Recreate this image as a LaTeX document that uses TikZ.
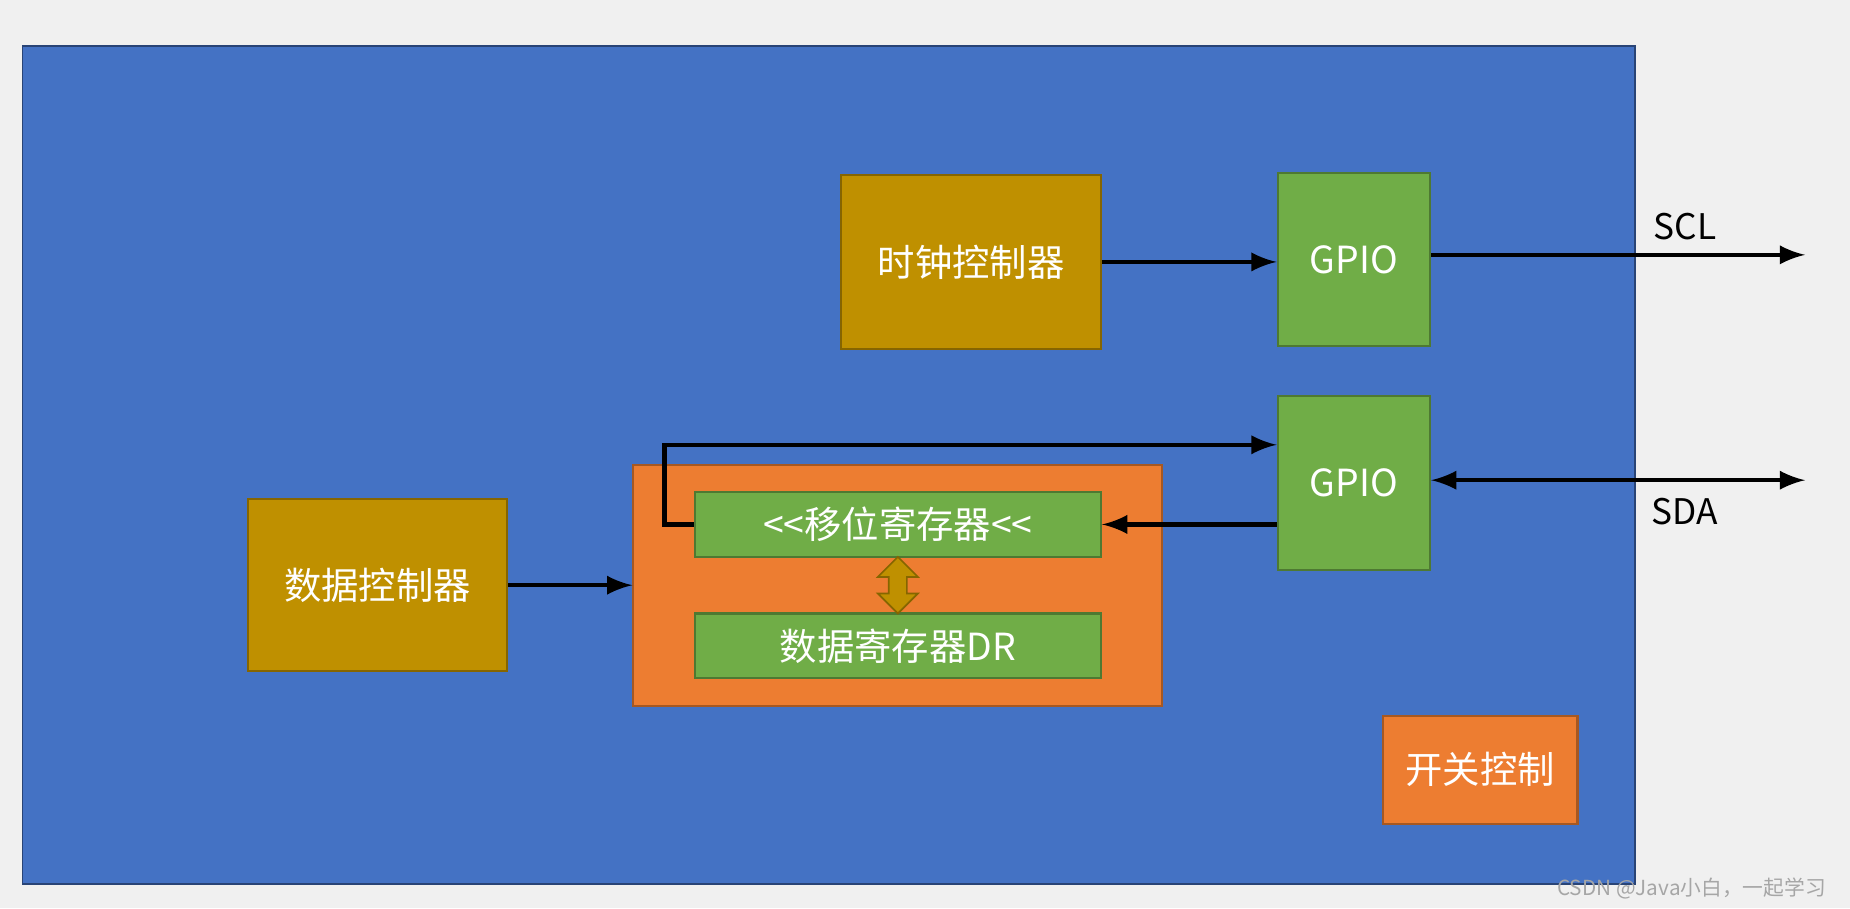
\documentclass[tikz,border=0pt]{standalone}
\usepackage{fontspec}
\setmainfont{Noto Sans CJK SC}
\usetikzlibrary{shapes.arrows}
\definecolor{bgGray}{HTML}{F0F0F0}
\definecolor{chipBlue}{HTML}{4472C4}
\definecolor{ctrlGold}{HTML}{BF9000}
\definecolor{ioGreen}{HTML}{70AD47}
\definecolor{regOrange}{HTML}{ED7D31}
\tikzset{
  blk/.style={draw=#1!70!black, fill=#1, line width=0.5pt, text=white,
    font=\fontsize{9}{10}\selectfont, inner sep=0pt},
  wire/.style={line width=1.1pt, -latex}
}
\begin{document}
\begin{tikzpicture}[x=0.01cm, y=-0.01cm]
\fill[bgGray] (0,0) rectangle (1568,770);
\useasboundingbox (0,0) rectangle (1568,770);
\draw[fill=chipBlue, draw=chipBlue!60!black] (19,39) rectangle (1386,749);
% blocks
\node[blk=ctrlGold, minimum width=2.2cm, minimum height=1.47cm] (clk) at (823,222) {时钟控制器};
\node[blk=ioGreen, minimum width=1.29cm, minimum height=1.46cm] (gpioA) at (1147.5,220) {GPIO};
\node[blk=ioGreen, minimum width=1.29cm, minimum height=1.47cm] (gpioB) at (1147.5,409.5) {GPIO};
\node[blk=ctrlGold, minimum width=2.2cm, minimum height=1.46cm] (dctl) at (320,496) {数据控制器};
\node[blk=regOrange, minimum width=4.48cm, minimum height=2.04cm] (regs) at (761,496) {};
\node[blk=ioGreen, minimum width=3.44cm, minimum height=0.55cm] (shift) at (761,444.5) {{<}{<}移位寄存器{<}{<}};
\node[blk=ioGreen, minimum width=3.44cm, minimum height=0.55cm] (dr) at (761,547.5) {数据寄存器DR};
\node[blk=regOrange, minimum width=1.65cm, minimum height=0.91cm] (sw) at (1254.5,652.5) {开关控制};
\node[double arrow, fill=ctrlGold, draw=ctrlGold!70!black, rotate=90,
  minimum height=0.48cm, minimum width=0.34cm, double arrow head extend=0.03cm,
  inner sep=0.5pt] (link) at (761,496) {};
% external pins
\coordinate (scl) at (1530,216);
\coordinate (sda) at (1530,407);
\node[font=\fontsize{8.5}{10}\selectfont] (sclT) at (1428,192) {SCL};
\node[font=\fontsize{8.5}{10}\selectfont] (sdaT) at (1428,434) {SDA};
% connectors
\draw[wire] (clk.east) -- (clk.east -| gpioA.west);
\draw[wire] (gpioA.east |- scl) -- (scl);
\draw[wire, latex-latex] (gpioB.east |- sda) -- (sda);
\draw[wire] (dctl.east) -- (regs.west);
\draw[wire] (gpioB.west |- shift.east) -- (shift.east);
\draw[wire] (shift.west) -- ++(-25,0) |- (gpioB.west |- 0,377);
\node[text=gray!70, font=\fontsize{5}{6}\selectfont, anchor=east] (mark) at (1560,753) {CSDN @Java小白，一起学习};
\end{tikzpicture}
\end{document}
